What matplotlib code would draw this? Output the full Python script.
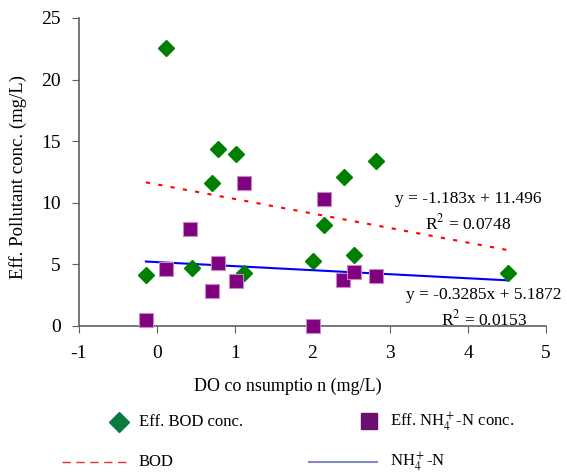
import matplotlib
matplotlib.use("Agg")
import matplotlib.pyplot as plt
import numpy as np

plt.rcParams['font.family'] = ['Liberation Serif', 'DejaVu Serif']
plt.rcParams['mathtext.fontset'] = 'stix'
plt.rcParams['axes.unicode_minus'] = False

# data
bod_x = [0.12, -0.14, 0.45, 0.79, 1.02, 0.71, 1.12, 2.00, 2.15, 2.41, 2.53, 2.82, 4.51]
bod_y = [22.6, 4.15, 4.7, 14.4, 14.0, 11.6, 4.3, 5.3, 8.2, 12.1, 5.8, 13.4, 4.3]
nh4_x = [-0.14, 0.12, 0.43, 0.79, 0.71, 1.02, 1.12, 2.15, 2.00, 2.39, 2.53, 2.82]
nh4_y = [0.5, 4.65, 7.9, 5.15, 2.85, 3.65, 11.6, 10.3, 0.0, 3.7, 4.35, 4.05]
bod_fit = (-1.183, 11.496)
nh4_fit = (-0.3285, 5.1872)
bod_r2 = 0.0748
nh4_r2 = 0.0153
xticks = [-1, 0, 1, 2, 3, 4, 5]
yticks = [0, 5, 10, 15, 20, 25]

fig = plt.figure(figsize=(5.67, 4.75), dpi=100)
ax = fig.add_axes([79/567, 1-326/475, (546-79)/567, (326-18)/475])

xs = np.array([min(bod_x), max(bod_x)])
ax.plot(xs, bod_fit[0]*xs + bod_fit[1], color='red', lw=1.5, ls=(0, (2, 4)), zorder=2)
ax.plot(xs, nh4_fit[0]*xs + nh4_fit[1], color='blue', lw=1.5, zorder=2)
ax.plot(bod_x, bod_y, 'D', color='#008000', ms=8.5, mec='#008000', clip_on=False, zorder=3)
ax.plot(nh4_x, nh4_y, 's', color='#800080', ms=10, mec='#c58ac5', mew=0.8, clip_on=False, zorder=3)

ax.set_xlim(-1, 5)
ax.set_ylim(0, 25)
ax.set_xticks(xticks)
ax.set_yticks(yticks)
for s in ['top', 'right']:
    ax.spines[s].set_visible(False)
for s in ['left', 'bottom']:
    ax.spines[s].set_color('#606060')
    ax.spines[s].set_linewidth(1.2)
ax.tick_params(direction='out', length=5, color='#606060', labelsize=14)
ax.tick_params(axis='y', pad=8)
ax.tick_params(axis='x', pad=9)

ax.text(4.0, 10.3, f"y = {bod_fit[0]}x + {bod_fit[1]}", ha='center', va='center', fontsize=12.5)
ax.text(4.0, 8.3, f"R$^2$ = {bod_r2}", ha='center', va='center', fontsize=12.5)
ax.text(4.2, 2.5, f"y = {nh4_fit[0]}x + {nh4_fit[1]}", ha='center', va='center', fontsize=12.5)
ax.text(4.2, 0.55, f"R$^2$ = {nh4_r2}", ha='center', va='center', fontsize=12.5)

fig.text(288/567, 1-386/475, "DO co nsumptio n (mg/L)", ha='center', va='center', fontsize=13)
fig.text(18/567, 1-177/475, "Eff. Pollutant conc. (mg/L)", ha='center', va='center',
         rotation=90, fontsize=13.5)

# legend drawn in pixel coordinates
lg = fig.add_axes([0, 0, 1, 1], facecolor='none')
lg.set_xlim(0, 567)
lg.set_ylim(475, 0)
lg.axis('off')
lg.plot([119], [422], 'D', color='#0b7a3e', ms=10)
lg.text(139, 422, "Eff. BOD conc.", va='center', fontsize=12)
lg.plot([369], [421], 's', color='#6a1070', ms=11)
lg.text(390, 422, "Eff. NH$_4^+$-N conc.", va='center', fontsize=12)
lg.plot([62, 128], [462, 462], color='#e0303a', lw=1, ls=(0, (6, 4)))
lg.text(139, 462, "BOD", va='center', fontsize=12)
lg.plot([309, 377], [462, 462], color='#8088c8', lw=1.5)
lg.text(390, 462, "NH$_4^+$-N", va='center', fontsize=12)

fig.savefig("out.png", dpi=100)
